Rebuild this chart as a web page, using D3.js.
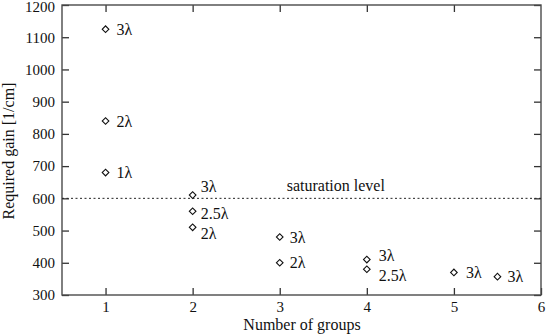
<!DOCTYPE html>
<html><head><meta charset="utf-8">
<script src="https://cdn.jsdelivr.net/npm/d3@7"></script>
<style>body{margin:0;background:#fff}svg{display:block}text{font-family:"Liberation Serif","Times New Roman",serif;fill:#111}</style>
</head><body><svg id="c" width="550" height="336"></svg>
<script>
const groups = [1, 1, 1, 2, 2, 2, 3, 3, 4, 4, 5, 5.5];
const gains = [1125, 840, 680, 610, 560, 510, 480, 400, 410, 380, 370, 357];
const labels = ["3λ","2λ","1λ","3λ","2.5λ","2λ","3λ","2λ","3λ","2.5λ","3λ","3λ"];
const labelDx = [11,11,11,8,8,8,10,10,12,12,12,10];
const labelDy = [0,0,0,-9,2,6,0,0,-4,6,0,0];
const xTicks = [1,2,3,4,5,6];
const yTicks = [300,400,500,600,700,800,900,1000,1100,1200];
const saturation = 600;

const svg = d3.select("#c");
const L=62, R=541, T=5, B=295;
const x = d3.scaleLinear().domain([0.5,6]).range([L,R]);
const y = d3.scaleLinear().domain([300,1200]).range([B,T]);
const axisColor = "#4a4a4a";

function style(g){
  g.select(".domain").remove();
  g.selectAll(".tick line").attr("stroke","#333").attr("stroke-width",1.3);
  g.selectAll(".tick text").style("font-size","15px").attr("fill","#111");
}
svg.append("g").attr("transform",`translate(0,${B})`)
  .call(d3.axisBottom(x).tickValues(xTicks).tickFormat(d3.format("d")).tickSizeInner(-7).tickSizeOuter(0).tickPadding(6))
  .call(style);
svg.append("g").attr("transform",`translate(0,${T})`)
  .call(d3.axisTop(x).tickValues(xTicks.filter(d=>d<6)).tickFormat("").tickSizeInner(-7).tickSizeOuter(0))
  .call(style);
svg.append("g").attr("transform",`translate(${L},0)`)
  .call(d3.axisLeft(y).tickValues(yTicks).tickFormat(d3.format("d")).tickSizeInner(-7).tickSizeOuter(0).tickPadding(7))
  .call(style)
  .call(g=>g.selectAll(".tick text").filter(d=>d===1200).attr("y",2));
svg.append("g").attr("transform",`translate(${R},0)`)
  .call(d3.axisRight(y).tickValues(yTicks).tickFormat("").tickSizeInner(-7).tickSizeOuter(0))
  .call(style);

svg.append("rect").attr("x",L).attr("y",T).attr("width",R-L).attr("height",B-T)
  .attr("fill","none").attr("stroke",axisColor).attr("stroke-width",1.4);

svg.append("line").attr("x1",L).attr("x2",R).attr("y1",y(saturation)).attr("y2",y(saturation))
  .attr("stroke","#222").attr("stroke-width",1).attr("stroke-dasharray","2,2.5");
svg.append("text").attr("x",x(3.08)).attr("y",y(saturation)-13).attr("dy","0.35em")
  .style("font-size","16px").text("saturation level");

const sym = d3.symbol().type(d3.symbolSquare).size(22);
const pts = groups.map((g,i)=>({g, v:gains[i], l:labels[i], dx:labelDx[i], dy:labelDy[i]}));
svg.selectAll("path.pt").data(pts).enter().append("path").attr("class","pt")
  .attr("d",sym).attr("transform",d=>`translate(${x(d.g)},${y(d.v)}) rotate(45)`)
  .attr("fill","#fff").attr("stroke","#111").attr("stroke-width",1.1);
svg.selectAll("text.lb").data(pts).enter().append("text").attr("class","lb")
  .attr("x",d=>x(d.g)+d.dx).attr("y",d=>y(d.v)+d.dy).attr("dy","0.35em")
  .style("font-size","16px").text(d=>d.l);

svg.append("text").attr("x",302).attr("y",330).attr("text-anchor","middle")
  .style("font-size","16px").text("Number of groups");
svg.append("text").attr("transform",`translate(14,151) rotate(-90)`).attr("text-anchor","middle")
  .style("font-size","16px").text("Required gain [1/cm]");
</script></body></html>
